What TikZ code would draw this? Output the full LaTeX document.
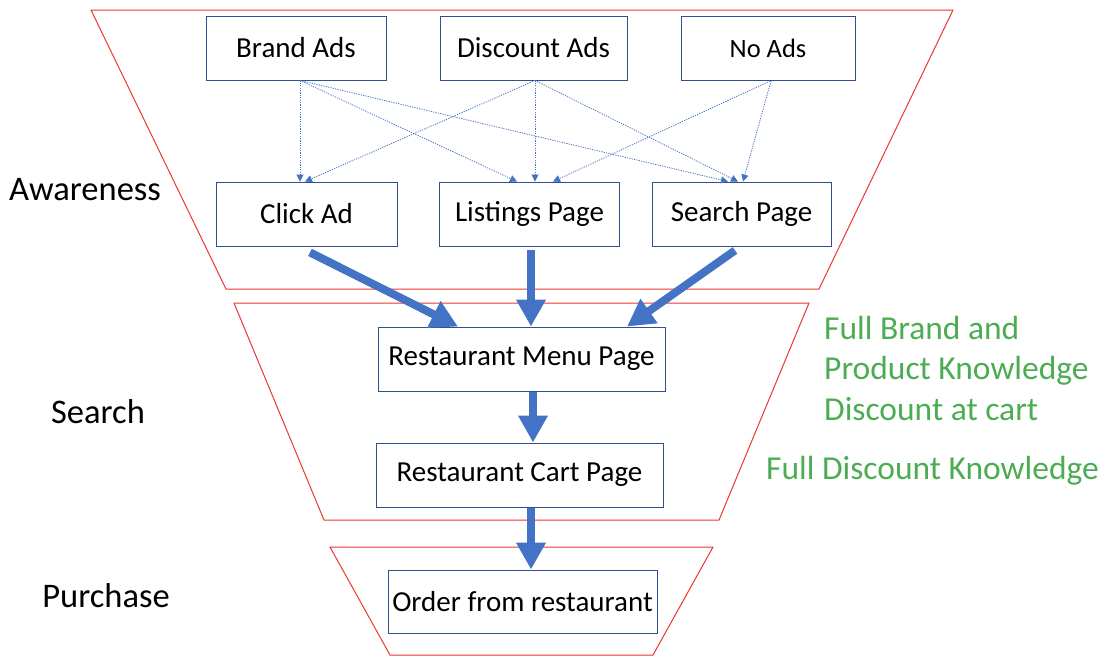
\documentclass[tikz,border=0pt]{standalone}
\usepackage{fontspec}
\setmainfont{Carlito}
\usetikzlibrary{arrows.meta}
\definecolor{boxblue}{RGB}{47,82,143}
\definecolor{arrblue}{RGB}{68,114,196}
\definecolor{funred}{RGB}{235,55,45}
\definecolor{txtgreen}{RGB}{76,172,82}
\tikzset{
  box/.style={draw=boxblue, line width=0.9pt, minimum height=64pt, inner sep=0pt, font=\fontsize{29}{34}\selectfont},
  funnel/.style={draw=funred, line width=1pt},
  dotarrow/.style={draw=arrblue, line width=0.8pt, dash pattern=on 1.2pt off 1.2pt, -{Triangle[width=7pt,length=7pt]}},
  bigarrow/.style={draw=arrblue, line width=8pt, -{Triangle[width=28pt,length=27pt]}},
  stage/.style={font=\fontsize{34.5}{40}\selectfont, inner sep=0pt},
  note/.style={text=txtgreen, font=\fontsize{33.5}{40.5}\selectfont, inner sep=0pt, align=left, anchor=west}
}
\begin{document}
\begin{tikzpicture}[x=1pt,y=-1pt]
\useasboundingbox (0,0) rectangle (1102,656);
% funnel stages
\draw[funnel] (91,10) -- (953,10) -- (819,289) -- (226,289) -- cycle;
\draw[funnel] (234,303) -- (809,303) -- (719,520) -- (324,520) -- cycle;
\draw[funnel] (330,547) -- (713,547) -- (653,655) -- (390,655) -- cycle;
% boxes
\node[box, minimum width=180pt] (brand) at (296,48) {Brand Ads};
\node[box, minimum width=187pt] (disc) at (533.5,48) {Discount Ads};
\node[box, minimum width=174pt, font=\fontsize{26.5}{30}\selectfont] (noads) at (768,48.5) {No Ads};
\node[box, minimum width=181pt] (click) at (306.5,214) {Click Ad};
\node[box, minimum width=180pt] (list) at (529.5,214) {Listings Page};
\node[box, minimum width=179pt] (search) at (741.5,214) {Search Page};
\node[box, minimum width=287pt] (menu) at (521.5,359) {Restaurant Menu Page};
\node[box, minimum width=287pt] (cart) at (519.5,475) {Restaurant Cart Page};
\node[box, minimum width=269pt, minimum height=63pt] (order) at (522.5,601.5) {Order from restaurant};
% stage labels
\node[stage] (aw) at (85,190) {Awareness};
\node[stage] (se) at (98,412) {Search};
\node[stage] (pu) at (106,596) {Purchase};
% notes
\node[note] (n1) at (824,368) {Full Brand and\\Product Knowledge\\Discount at cart};
\node[note] (n2) at (766,471) {Full Discount Knowledge};
% dotted arrows
\draw[dotarrow] ([xshift=4pt]brand.south) -- ([xshift=-6.5pt]click.north);
\draw[dotarrow] ([xshift=4pt]brand.south) -- ([xshift=-12.5pt]list.north);
\draw[dotarrow] ([xshift=4pt]brand.south) -- ([xshift=-13.5pt]search.north);
\draw[dotarrow] ([xshift=1.5pt]disc.south) -- ([xshift=-1.5pt]click.north);
\draw[dotarrow] ([xshift=1.5pt]disc.south) -- ([xshift=5.5pt]list.north);
\draw[dotarrow] ([xshift=1.5pt]disc.south) -- ([xshift=-3.5pt]search.north);
\draw[dotarrow] ([xshift=2pt]noads.south) -- ([xshift=23.5pt]list.north);
\draw[dotarrow] ([xshift=3pt]noads.south) -- ([xshift=1.5pt]search.north);
% thick arrows
\draw[bigarrow] ([xshift=3.5pt,yshift=-6pt]click.south) -- ([xshift=-63.5pt]menu.north);
\draw[bigarrow] ([xshift=1.5pt,yshift=-4pt]list.south) -- ([xshift=9.5pt]menu.north);
\draw[bigarrow] ([xshift=-6.5pt,yshift=-4pt]search.south) -- ([xshift=105.5pt]menu.north);
\draw[bigarrow] ([xshift=11.5pt,yshift=-1pt]menu.south) -- ([xshift=13.5pt]cart.north);
\draw[bigarrow] ([xshift=11.5pt,yshift=-1pt]cart.south) -- ([xshift=8.5pt]order.north);
\end{tikzpicture}
\end{document}
